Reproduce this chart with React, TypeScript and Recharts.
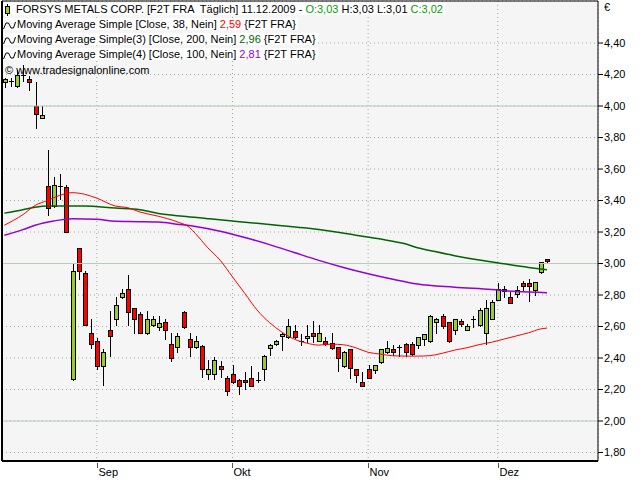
import React from 'react'
import { ComposedChart, Bar, Line, XAxis, YAxis, CartesianGrid, ReferenceLine } from 'recharts'

const FONT = '"Liberation Sans", Arial, sans-serif'

// daily bars 11.08.2009 .. 11.12.2009, index = trading day
const opens = [
  4.15, 4.16, 4.13, 4.20, 4.17, 4.00, 3.925, 3.49, 3.365, 3.49,
  3.485, 2.264, 3.10, 2.94, 2.56, 2.51, 2.35, 2.58, 2.645, 2.79,
  2.84, 2.72, 2.68, 2.56, 2.61, 2.595, 2.63, 2.49, 2.47, 2.695,
  2.52, 2.47, 2.475, 2.30, 2.30, 2.35, 2.275, 2.30, 2.26, 2.26,
  2.275, 2.26, 2.33, 2.465, 2.49, 2.54, 2.535, 2.57, 2.51, 2.525,
  2.56, 2.51, 2.51, 2.495, 2.47, 2.35, 2.455, 2.33, 2.245, 2.33,
  2.325, 2.375, 2.435, 2.455, 2.47, 2.49, 2.49, 2.485, 2.52, 2.505,
  2.63, 2.665, 2.63, 2.58, 2.635, 2.58, 2.645, 2.61, 2.56, 2.65,
  2.77, 2.825, 2.785, 2.805, 2.875, 2.875, 2.83, 2.945, 3.03,
]
const highs = [
  4.18, 4.18, 4.23, 4.26, 4.19, 4.15, 4.00, 3.72, 3.55, 3.57,
  3.50, 3.00, 3.10, 2.95, 2.65, 2.53, 2.455, 2.70, 2.79, 2.84,
  2.925, 2.72, 2.69, 2.70, 2.665, 2.665, 2.65, 2.56, 2.56, 2.70,
  2.56, 2.54, 2.48, 2.39, 2.405, 2.38, 2.285, 2.355, 2.265, 2.31,
  2.35, 2.31, 2.42, 2.49, 2.515, 2.56, 2.65, 2.61, 2.555, 2.61,
  2.635, 2.61, 2.535, 2.56, 2.47, 2.445, 2.46, 2.33, 2.31, 2.355,
  2.355, 2.46, 2.505, 2.485, 2.485, 2.495, 2.50, 2.535, 2.555, 2.67,
  2.655, 2.68, 2.63, 2.65, 2.645, 2.615, 2.665, 2.715, 2.77, 2.77,
  2.875, 2.86, 2.82, 2.855, 2.89, 2.90, 2.885, 3.01, 3.03,
]
const lows = [
  4.12, 4.13, 4.12, 4.16, 4.10, 3.86, 3.925, 3.31, 3.36, 3.41,
  3.20, 2.26, 2.90, 2.61, 2.465, 2.33, 2.23, 2.41, 2.61, 2.78,
  2.61, 2.56, 2.56, 2.555, 2.605, 2.58, 2.52, 2.38, 2.44, 2.59,
  2.41, 2.465, 2.28, 2.265, 2.265, 2.28, 2.165, 2.24, 2.17, 2.205,
  2.22, 2.255, 2.26, 2.42, 2.485, 2.45, 2.53, 2.525, 2.485, 2.50,
  2.50, 2.505, 2.48, 2.46, 2.32, 2.345, 2.275, 2.245, 2.22, 2.27,
  2.305, 2.37, 2.43, 2.42, 2.415, 2.41, 2.42, 2.465, 2.485, 2.50,
  2.56, 2.59, 2.50, 2.55, 2.605, 2.58, 2.60, 2.605, 2.49, 2.65,
  2.77, 2.79, 2.75, 2.785, 2.835, 2.76, 2.80, 2.94, 3.01,
]
const closes = [
  4.17, 4.16, 4.20, 4.20, 4.15, 3.95, 3.94, 3.35, 3.50, 3.49,
  3.20, 2.95, 2.95, 2.61, 2.49, 2.35, 2.44, 2.54, 2.735, 2.815,
  2.69, 2.645, 2.56, 2.65, 2.645, 2.625, 2.58, 2.40, 2.54, 2.595,
  2.47, 2.505, 2.33, 2.33, 2.385, 2.33, 2.19, 2.245, 2.225, 2.245,
  2.225, 2.26, 2.415, 2.485, 2.51, 2.555, 2.605, 2.535, 2.51, 2.54,
  2.54, 2.56, 2.49, 2.465, 2.40, 2.44, 2.335, 2.295, 2.225, 2.275,
  2.355, 2.455, 2.465, 2.44, 2.47, 2.435, 2.425, 2.535, 2.555, 2.665,
  2.65, 2.605, 2.505, 2.645, 2.615, 2.605, 2.645, 2.705, 2.72, 2.755,
  2.84, 2.84, 2.75, 2.835, 2.86, 2.855, 2.885, 3.01, 3.02,
]

// moving averages, [bar index, value]
const ma38 = [
  [0, 3.243], [3, 3.31], [5, 3.369], [7, 3.40], [9, 3.433], [11, 3.45], [13, 3.44], [15, 3.415],
  [18, 3.365], [20, 3.355], [22, 3.327], [25, 3.30], [28, 3.265], [30, 3.23], [31, 3.19], [33, 3.10],
  [35, 3.021], [37, 2.915], [39, 2.81], [41, 2.704], [43, 2.625], [45, 2.565], [47, 2.52], [49, 2.495],
  [51, 2.482], [53, 2.488], [55, 2.484], [57, 2.465], [59, 2.436], [61, 2.425], [63, 2.414], [65, 2.412],
  [67, 2.412], [69, 2.415], [71, 2.43], [73, 2.45], [75, 2.465], [77, 2.485], [79, 2.50], [81, 2.52],
  [83, 2.54], [85, 2.56], [87, 2.585], [88, 2.59],
]
const ma200 = [
  [0, 3.32], [3, 3.342], [5, 3.358], [7, 3.365], [13, 3.365], [18, 3.352], [22, 3.342], [25, 3.318],
  [29, 3.30], [33, 3.285], [37, 3.27], [41, 3.255], [45, 3.24], [49, 3.225], [53, 3.205], [57, 3.18],
  [61, 3.155], [65, 3.125], [67, 3.10], [69, 3.083], [73, 3.05], [77, 3.022], [81, 2.998], [85, 2.975],
  [88, 2.96],
]
const ma100 = [
  [0, 3.179], [3, 3.215], [5, 3.243], [8, 3.27], [11, 3.285], [15, 3.281], [18, 3.268], [22, 3.266],
  [25, 3.263], [28, 3.25], [31, 3.235], [35, 3.205], [39, 3.165], [43, 3.12], [47, 3.07], [51, 3.02],
  [55, 2.975], [59, 2.935], [63, 2.90], [67, 2.87], [73, 2.85], [79, 2.835], [83, 2.822], [88, 2.815],
]

const monthTicks = [15, 37, 59, 80]
const monthNames = ['Sep', 'Okt', 'Nov', 'Dez']
const priceTicks = [1.8, 2.0, 2.2, 2.4, 2.6, 2.8, 3.0, 3.2, 3.4, 3.6, 3.8, 4.0, 4.2, 4.4]

const X_MIN = -0.373
const X_MAX = 96.27
const Y_MIN = 1.746
const Y_MAX = 4.667

const lookup = (pairs: number[][], i: number) => {
  const hit = pairs.find(p => p[0] === i)
  return hit ? hit[1] : undefined
}

const rows = opens.map((open, i) => ({
  i,
  open,
  high: highs[i],
  low: lows[i],
  close: closes[i],
  range: [lows[i], highs[i]],
  ma38: lookup(ma38, i),
  ma200: lookup(ma200, i),
  ma100: lookup(ma100, i),
}))

const fmt = (v: number) => v.toFixed(2).replace('.', ',')

function Candle(props: any) {
  const { x, y, width, height, payload } = props
  if (x == null || y == null || !payload) return null
  const { open, close, high, low } = payload
  const top = Math.min(y, y + height)
  const h = Math.abs(height)
  const k = h / (high - low)
  const yOf = (v: number) => top + (high - v) * k
  const cx = Math.round(x + width / 2)
  const wickTop = Math.round(yOf(high))
  const wickBot = Math.round(yOf(low))
  const doji = Math.abs(open - close) < 0.004
  let bTop = Math.round(yOf(Math.max(open, close)))
  let bBot = Math.round(yOf(Math.min(open, close)))
  if (bBot - bTop < 2) bBot = bTop + 2
  return (
    <g shapeRendering="crispEdges">
      <line x1={cx + 0.5} x2={cx + 0.5} y1={wickTop} y2={Math.max(wickBot, bBot) + 1} stroke="#000" strokeWidth={1} />
      {doji ? (
        <line x1={cx - 2} x2={cx + 3} y1={bTop + 0.5} y2={bTop + 0.5} stroke="#000" strokeWidth={1} />
      ) : (
        <rect
          x={cx - 1.5}
          y={bTop + 0.5}
          width={4}
          height={bBot - bTop}
          fill={close >= open ? '#99cc33' : '#ff0000'}
          stroke="#000"
          strokeWidth={1}
        />
      )}
    </g>
  )
}

function MonthTick(props: any) {
  const { x, y, payload } = props
  const idx = monthTicks.indexOf(payload.value)
  const px = Math.round(x) + 0.5
  return (
    <g>
      <line x1={px} x2={px} y1={y + 2} y2={y + 7} stroke="#555" />
      <text x={px + 1} y={y + 15} fontSize={11} fontFamily={FONT} fill="#000">
        {monthNames[idx]}
      </text>
    </g>
  )
}

function WaveIcon() {
  return (
    <svg width={13} height={9} style={{ verticalAlign: 'middle', marginRight: 1 }}>
      <polyline points="0.5,8 3,2 5.5,2 8,7 10.5,7 12.5,1" fill="none" stroke="#000" strokeWidth={1} />
    </svg>
  )
}

function CandleIcon() {
  return (
    <svg width={13} height={12} style={{ verticalAlign: 'middle' }}>
      <line x1={4.5} x2={4.5} y1={0} y2={12} stroke="#000" />
      <rect x={2.5} y={2.5} width={4} height={7} fill="#99cc33" stroke="#000" />
    </svg>
  )
}

const white = { background: '#fff', paddingRight: 2 }

export default function App() {
  return (
    <div style={{ position: 'absolute', left: 0, top: 0, width: 640, height: 480, background: '#fff', fontFamily: FONT }}>
      <ComposedChart width={640} height={480} data={rows} margin={{ top: 1, right: 0, bottom: 0, left: 2 }}>
        <CartesianGrid stroke="#9fa99f" strokeDasharray="1 3" fill="#f5f5f5" />
        <ReferenceLine y={2} stroke="#b4ceb4" ifOverflow="visible" />
        <ReferenceLine y={3} stroke="#b4ceb4" ifOverflow="visible" />
        <ReferenceLine y={4} stroke="#b4ceb4" ifOverflow="visible" />
        <XAxis
          type="number"
          dataKey="i"
          domain={[X_MIN, X_MAX]}
          allowDataOverflow
          ticks={monthTicks}
          interval={0}
          height={19}
          tickSize={0}
          tickMargin={0}
          tickLine={false}
          axisLine={{ stroke: '#000', strokeWidth: 2 }}
          tick={<MonthTick />}
        />
        <YAxis
          orientation="right"
          type="number"
          domain={[Y_MIN, Y_MAX]}
          allowDataOverflow
          ticks={priceTicks}
          interval={0}
          width={42}
          tickSize={5}
          tickMargin={1}
          axisLine={{ stroke: '#000' }}
          tickLine={{ stroke: '#000' }}
          tickFormatter={fmt}
          tick={{ fontSize: 11, fill: '#000', fontFamily: FONT }}
        />
        <Line type="monotone" dataKey="ma200" stroke="#006400" strokeWidth={1.5} dot={false} connectNulls isAnimationActive={false} />
        <Line type="monotone" dataKey="ma100" stroke="#9400d3" strokeWidth={1.5} dot={false} connectNulls isAnimationActive={false} />
        <Line type="monotone" dataKey="ma38" stroke="#ff0000" strokeWidth={1} dot={false} connectNulls isAnimationActive={false} />
        <Bar dataKey="range" barSize={5} shape={(p: any) => <Candle {...p} />} isAnimationActive={false} />
        <ReferenceLine x={X_MIN} stroke="#000" strokeWidth={2} ifOverflow="visible" />
        <ReferenceLine y={Y_MAX} stroke="#000" strokeWidth={1} ifOverflow="visible" />
      </ComposedChart>

      <div style={{ position: 'absolute', left: 3, top: 2, fontSize: 11, lineHeight: '15px', whiteSpace: 'pre', color: '#000' }}>
        <div>
          <span style={white}>
            <CandleIcon />
            {'FORSYS METALS CORP. [F2T FRA  Täglich] 11.12.2009 - '}
            <span style={{ color: '#00a000' }}>O:3,03</span>
            {' H:3,03 L:3,01 '}
            <span style={{ color: '#00a000' }}>C:3,02</span>
          </span>
        </div>
        <div>
          <span style={white}>
            <WaveIcon />
            {'Moving Average Simple [Close, 38, Nein] '}
            <span style={{ color: '#ff0000' }}>2,59</span>
            {' {F2T FRA}'}
          </span>
        </div>
        <div>
          <span style={white}>
            <WaveIcon />
            {'Moving Average Simple(3) [Close, 200, Nein] '}
            <span style={{ color: '#006400' }}>2,96</span>
            {' {F2T FRA}'}
          </span>
        </div>
        <div>
          <span style={white}>
            <WaveIcon />
            {'Moving Average Simple(4) [Close, 100, Nein] '}
            <span style={{ color: '#9400d3' }}>2,81</span>
            {' {F2T FRA}'}
          </span>
        </div>
        <div style={{ paddingLeft: 2, marginTop: 1 }}>© www.tradesignalonline.com</div>
      </div>
      <span style={{ position: 'absolute', left: 604, top: 1, fontSize: 11, lineHeight: '13px' }}>€</span>
    </div>
  )
}
